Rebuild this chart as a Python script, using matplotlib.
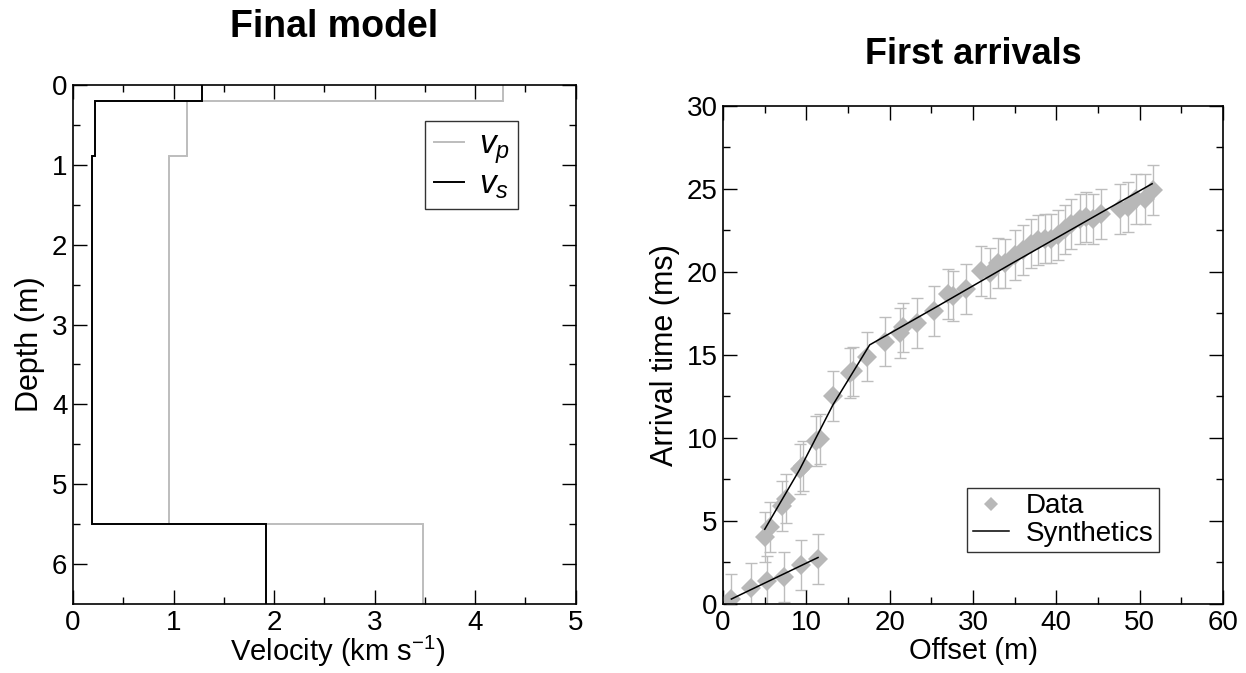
import numpy as np
import matplotlib
matplotlib.use("Agg")
import matplotlib.pyplot as plt

plt.rcParams['font.family'] = ['Liberation Sans', 'DejaVu Sans']
plt.rcParams['mathtext.fontset'] = 'custom'
plt.rcParams['mathtext.rm'] = 'Liberation Sans'
plt.rcParams['mathtext.it'] = 'Liberation Sans:italic'
plt.rcParams['mathtext.bf'] = 'Liberation Sans:bold'

# layered model (depth of layer boundaries, velocities in km/s)
layer_edges = [0.0, 0.2, 0.886, 5.5, 6.5]
vp = [4.28, 1.13, 0.95, 3.48]
vs = [1.28, 0.22, 0.19, 1.92]

# first-arrival picks (ms), two branches
off_near = [1.0, 3.3, 5.3, 7.3, 9.3, 11.4]
t_near = [0.3, 0.95, 1.4, 1.65, 2.35, 2.7]
off_far = [5.0, 5.6, 7.1, 7.6, 9.2, 9.6, 11.2, 11.6, 13.2, 15.2, 15.6, 17.3,
           19.4, 21.2, 21.6, 23.3, 25.3, 27.0, 27.6, 29.2, 31.0, 32.0, 33.0,
           33.8, 35.0, 36.0, 37.0, 37.8, 38.6, 39.4, 40.2, 41.0, 41.8, 42.8,
           43.6, 44.4, 45.4, 47.6, 48.6, 49.6, 50.6, 51.6]
t_far = [4.05, 4.65, 5.9, 6.35, 8.15, 8.3, 9.8, 9.95, 12.5, 13.9, 14.0, 14.9,
         15.8, 16.3, 16.65, 16.9, 17.65, 18.65, 18.55, 18.95, 20.05, 19.95,
         20.55, 20.5, 21.0, 21.3, 21.7, 21.9, 22.0, 22.0, 22.2, 22.55, 22.9,
         23.2, 23.3, 23.2, 23.5, 23.8, 23.9, 24.4, 24.4, 24.9]
t_err = 1.5

# synthetic travel times
syn_near_x = [1.0, 11.4]
syn_near_t = [0.3, 2.8]
syn_far_x = [5.0, 9.2, 13.2, 17.6, 26.0, 35.0, 45.5, 51.5]
syn_far_t = [4.5, 8.1, 12.0, 15.6, 18.0, 20.6, 23.6, 25.3]

gray = '#bdbdbd'
fs = 20

fig = plt.figure(figsize=(12.46, 6.73), dpi=100)
ax1 = fig.add_axes([0.0586, 0.1025, 0.4034, 0.7712])
ax2 = fig.add_axes([0.5803, 0.1025, 0.4012, 0.7405])

# left: velocity model
ax1.stairs(vp, layer_edges, orientation='horizontal', baseline=None,
           color=gray, lw=1.4, label=r'$v_p$')
ax1.stairs(vs, layer_edges, orientation='horizontal', baseline=None,
           color='black', lw=1.4, label=r'$v_s$')
ax1.set_xlim(0, 5)
ax1.set_ylim(6.5, 0)
ax1.set_xticks(np.arange(0, 6, 1))
ax1.set_xticks(np.arange(0.5, 5, 1), minor=True)
ax1.set_yticks(np.arange(0, 7, 1))
ax1.set_yticks(np.arange(0.5, 6.5, 1), minor=True)
ax1.set_xlabel(r'Velocity (km s$^{-1}$)', fontsize=21, labelpad=-1)
ax1.xaxis.label.set_x(0.526)
ax1.set_ylabel('Depth (m)', fontsize=22, labelpad=5)
fig.text(0.268, 1 - 27 / 673, 'Final model', fontsize=27,
         fontweight='bold', ha='center', va='center')
leg1 = ax1.legend(loc='upper right', bbox_to_anchor=(0.885, 0.93),
                  fontsize=24, frameon=True, fancybox=False, handlelength=0.9,
                  borderpad=0.25, labelspacing=0.1, handletextpad=0.45,
                  borderaxespad=0)
leg1.get_frame().set_edgecolor('black')
leg1.get_frame().set_linewidth(1.0)

# right: first arrivals
ax2.errorbar(off_near, t_near, yerr=t_err, fmt='none', ecolor=gray,
             elinewidth=1.0, capsize=4, capthick=1.0, zorder=1)
ax2.errorbar(off_far, t_far, yerr=t_err, fmt='none', ecolor=gray,
             elinewidth=1.0, capsize=4, capthick=1.0, zorder=1)
ax2.plot(off_near, t_near, 'D', color='#b8b8b8', ms=10, mew=0, zorder=2,
         label='Data')
ax2.plot(off_far, t_far, 'D', color='#b8b8b8', ms=10, mew=0, zorder=2)
ax2.plot(syn_near_x, syn_near_t, color='black', lw=1.1, zorder=3,
         label='Synthetics')
ax2.plot(syn_far_x, syn_far_t, color='black', lw=1.1, zorder=3)
ax2.set_xlim(0, 60)
ax2.set_ylim(0, 30)
ax2.set_xticks(np.arange(0, 70, 10))
ax2.set_xticks(np.arange(5, 60, 10), minor=True)
ax2.set_yticks(np.arange(0, 35, 5))
ax2.set_yticks(np.arange(2.5, 30, 5), minor=True)
ax2.set_xlabel('Offset (m)', fontsize=21, labelpad=1)
ax2.set_ylabel('Arrival time (ms)', fontsize=22, labelpad=5)
fig.text(0.781, 1 - 55 / 673, 'First arrivals', fontsize=26,
         fontweight='bold', ha='center', va='center')
leg2 = ax2.legend(loc='lower right', bbox_to_anchor=(0.872, 0.104),
                  fontsize=20, frameon=True, fancybox=False, handlelength=1.3,
                  borderpad=0.2, labelspacing=0.05, handletextpad=0.6,
                  markerscale=0.75, borderaxespad=0)
leg2.get_frame().set_edgecolor('black')
leg2.get_frame().set_linewidth(1.0)

for ax in (ax1, ax2):
    ax.tick_params(which='both', direction='in', top=True, right=True,
                   labelsize=fs, width=1.0, pad=4)
    ax.tick_params(which='major', length=10)
    ax.tick_params(which='minor', length=5)
    for s in ax.spines.values():
        s.set_linewidth(1.2)

fig.savefig('out.png', dpi=100)
